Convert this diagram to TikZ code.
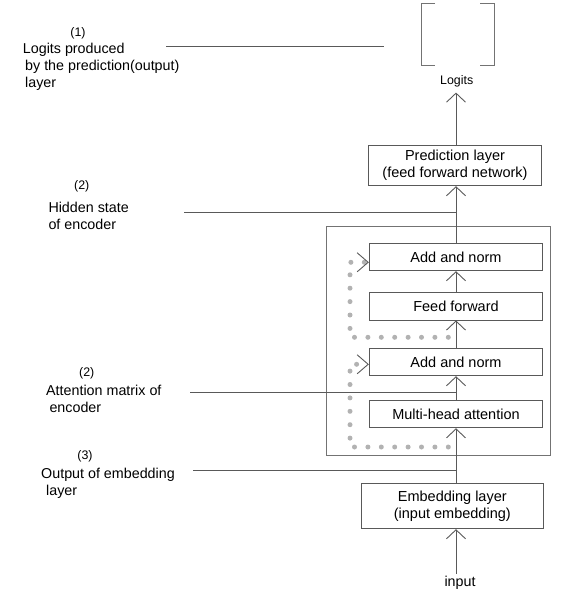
\documentclass[tikz,border=0pt]{standalone}
\usepackage{fontspec}
\setmainfont{Liberation Sans}
\usetikzlibrary{arrows.meta}

\tikzset{
	layer/.style={draw=black!65, line width=0.9pt, minimum width=173.4pt, inner sep=0pt, align=center, font=\fontsize{14.5}{17}\selectfont},
	note/.style={anchor=west, align=left, inner sep=0pt, font=\fontsize{14.3}{17}\selectfont},
	tag/.style={inner sep=0pt, font=\fontsize{12.4}{14}\selectfont},
	flow/.style={draw=black!65, line width=0.9pt, -{Straight Barb[length=9pt,width=19pt]}},
	lead/.style={draw=black!65, line width=0.9pt},
	skip/.style={draw=black!30, line width=5pt, line cap=round, dash pattern=on 0pt off 13.4pt, -{Straight Barb[length=11pt,width=19pt,line width=0.9pt,color=black!65]}}
}

\begin{document}
\begin{tikzpicture}[x=1pt,y=-1pt]
	\useasboundingbox (0,0) rectangle (566,592);
	
	% logits vector
	\draw[black!55, line width=0.9pt] (435,3.3) -- (421.7,3.3) -- (421.7,65.7) -- (435,65.7);
	\draw[black!55, line width=0.9pt] (480,3.3) -- (494,3.3) -- (494,65.7) -- (480,65.7);
	\node[tag, anchor=base, outer sep=6pt] (logits) at (456.7,84) {Logits};
	
	% encoder block
	\draw[black!55, line width=0.9pt] (326,226) rectangle (550.7,455.3);
	
	\node[layer, minimum height=40pt] (pred) at (455,165.7) {Prediction layer\\(feed forward network)};
	\node[layer, minimum height=27.4pt] (add1) at (456,257) {Add and norm};
	\node[layer, minimum height=27.4pt] (ff) at (456,306.3) {Feed forward};
	\node[layer, minimum height=27.4pt] (add2) at (456,362) {Add and norm};
	\node[layer, minimum height=27.4pt] (mha) at (456,414.1) {Multi-head attention};
	\node[layer, minimum height=45pt, minimum width=182pt] (emb) at (452.3,506.2) {Embedding layer\\(input embedding)};
	\node[inner sep=2pt, font=\fontsize{14.3}{17}\selectfont] (input) at (460,582.7) {input};
	
	\draw[flow] (input.north -| mha) -- (emb.south -| mha);
	\draw[flow] (emb.north -| mha) -- (mha.south);
	\draw[flow] (mha.north) -- (add2.south);
	\draw[flow] (add2.north) -- (ff.south);
	\draw[flow] (ff.north) -- (add1.south);
	\draw[flow] (add1.north) -- (pred.south -| add1);
	\draw[flow] (pred.north -| add1) -- (logits.south -| add1);
	
	% residual connections
	\coordinate (res1) at (448.3,337.3);
	\coordinate (res2) at (448.3,447);
	\draw[skip] (res1) -| (350,262.3) -- ([yshift=-5.3pt]add1.west);
	\draw[skip] (res2) -| (350,364.3) -- ([yshift=-2.3pt]add2.west);
	
	% annotations
	\node[tag] (n1) at (78,33.3) {(1)};
	\node[note] (lab1) at (22.7,67) {Logits produced\\\hspace*{2.3pt}by the prediction(output)\\\hspace*{2.3pt}layer};
	\coordinate (l1a) at (166,46);
	\coordinate (l1b) at (384,46);
	\draw[lead] (l1a) -- (l1b);
	
	\node[tag] (n2) at (81.7,186.3) {(2)};
	\node[note] (lab2) at (48.3,215.5) {Hidden state\\of encoder};
	\coordinate (l2) at (184.3,212.7);
	\draw[lead] (l2) -- (l2 -| add1);
	
	\node[tag] (n3) at (86.7,373.3) {(2)};
	\node[note] (lab3) at (46,399.2) {Attention matrix of\\\hspace*{3.3pt}encoder};
	\coordinate (l3) at (190,392.3);
	\draw[lead] (l3) -- (l3 -| add1);
	
	\node[tag] (n4) at (85,456.7) {(3)};
	\node[note] (lab4) at (41,483.7) {Output of embedding\\\hspace*{5pt}layer};
	\coordinate (l4) at (193.3,470.3);
	\draw[lead] (l4) -- (l4 -| add1);
\end{tikzpicture}
\end{document}
